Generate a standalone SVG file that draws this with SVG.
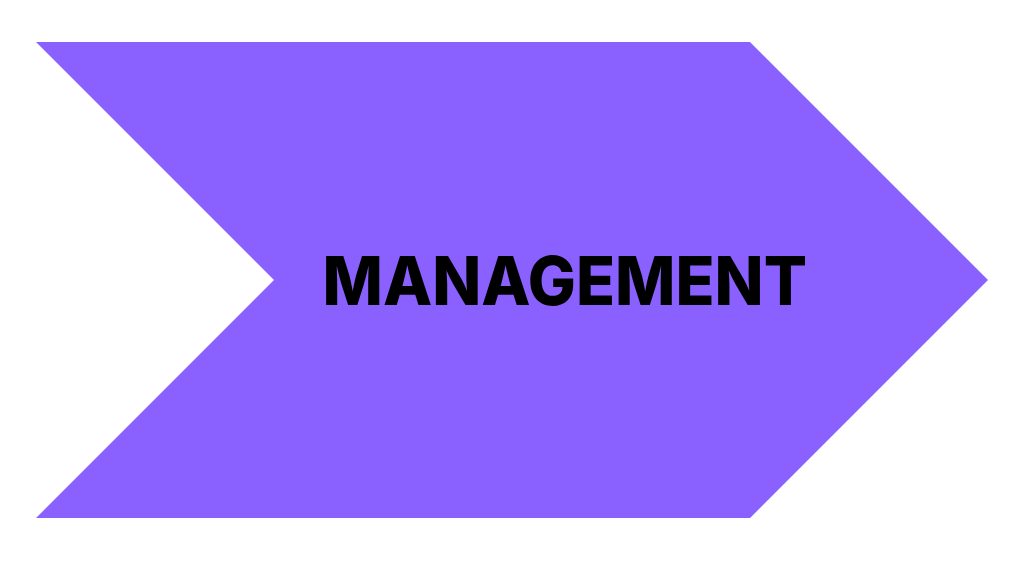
<svg xmlns="http://www.w3.org/2000/svg" width="1024" height="576" viewBox="0 0 1024 576">
<style>
.shape{fill:#8A60FF;}
.label{font-family:Inter,"Liberation Sans",Arial,sans-serif;font-weight:800;font-size:67px;fill:#000;}
</style>
<rect width="1024" height="576" fill="#ffffff"/>
<g id="chevron">
<polygon class="shape" points="36,42 750,42 988,280 750,518 36,518 274,280"/>
<text class="label" x="322.5" y="305" textLength="484.5" lengthAdjust="spacingAndGlyphs">MANAGEMENT</text>
</g>
<g id="connectors"/>
</svg>
